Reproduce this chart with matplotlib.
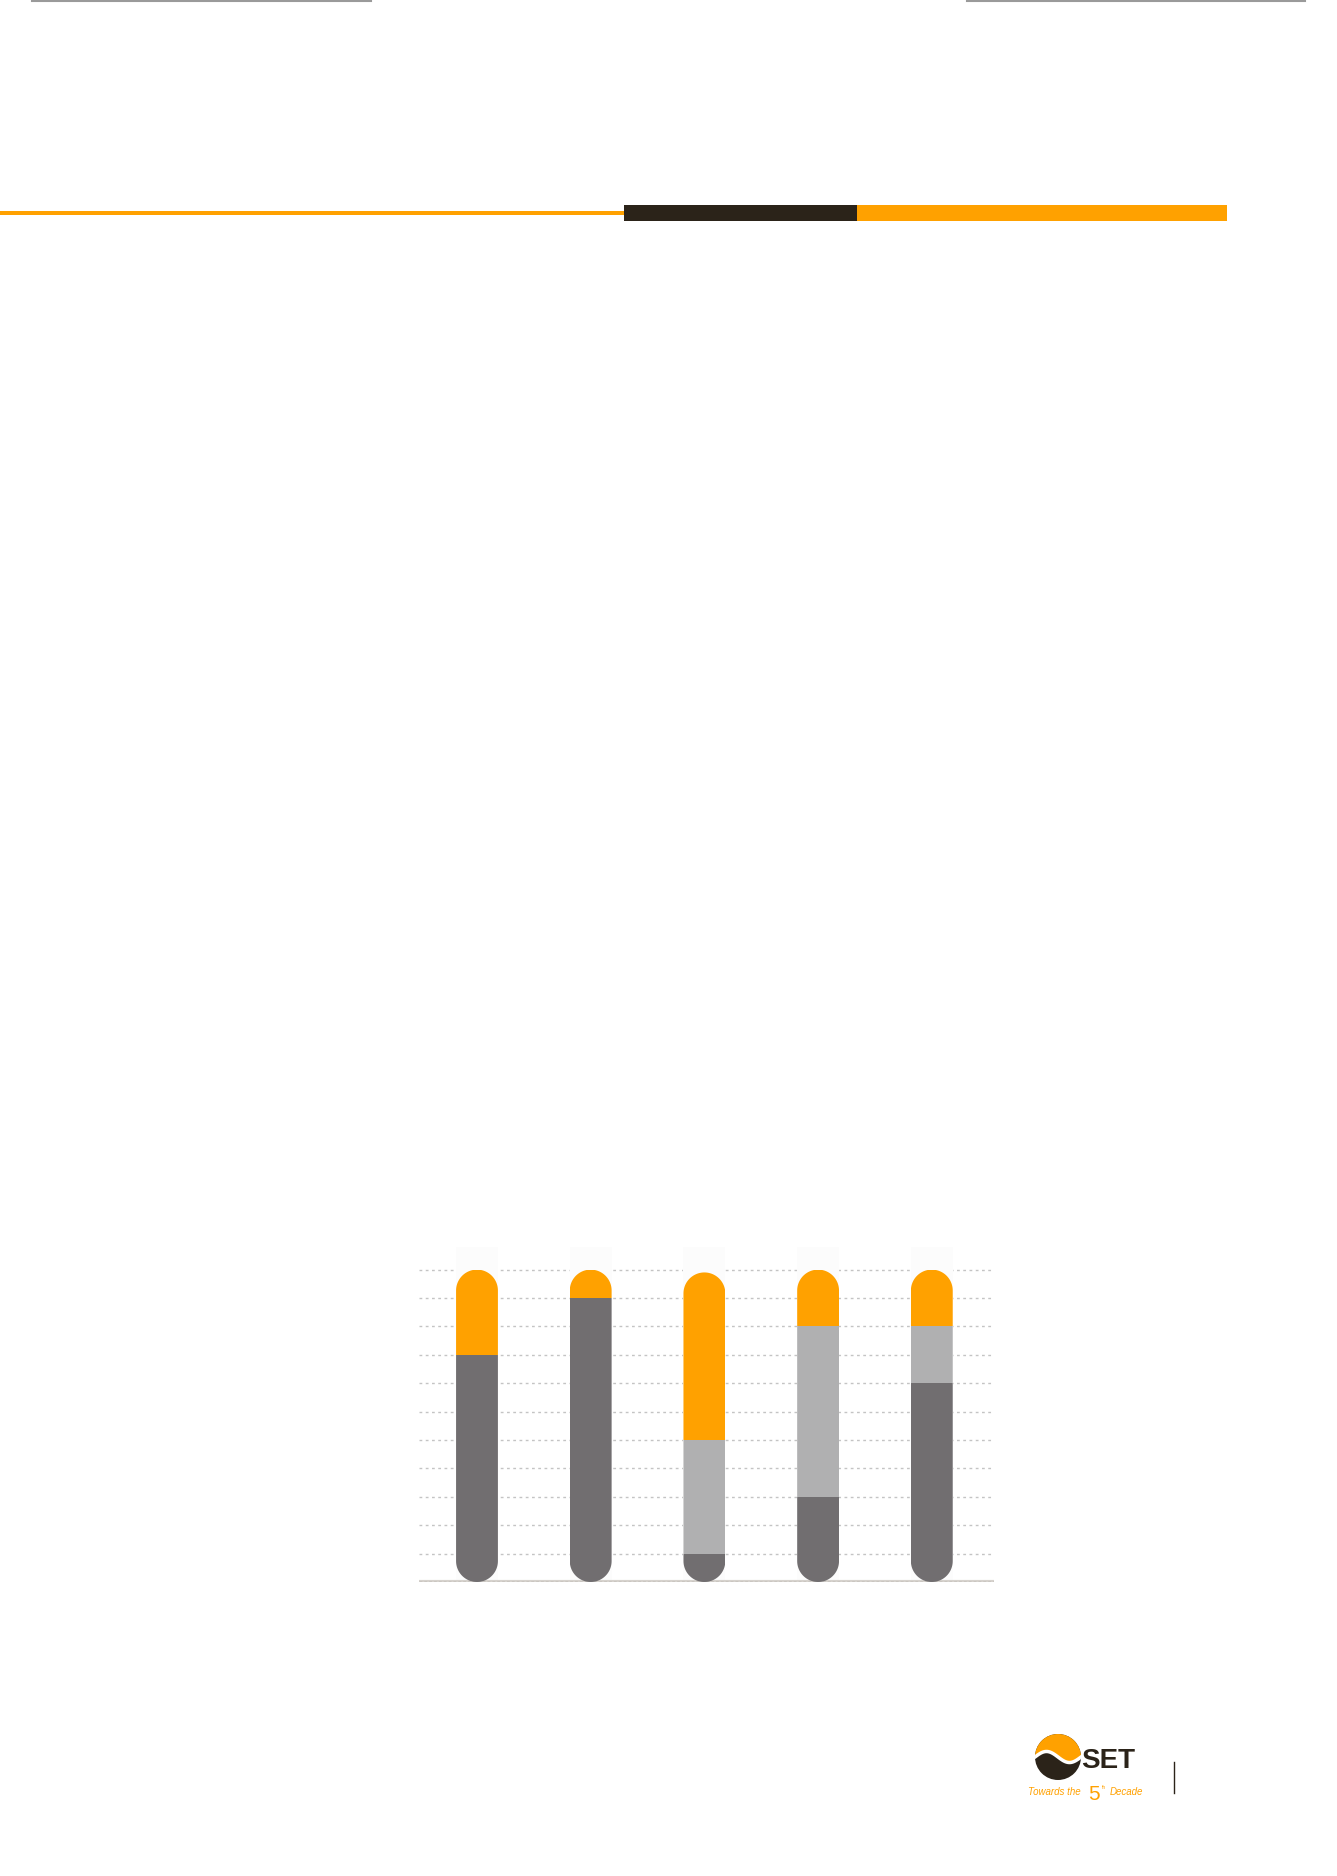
import numpy as np
import matplotlib.pyplot as plt
from matplotlib.path import Path
from matplotlib.patches import Rectangle, Circle, Polygon

# page size in pixels (dpi 100)
W, H = 1337, 1876

# stacked segment values (percent), one per column
columns = ['1', '2', '3', '4', '5']
dark_vals = [80, 100, 10, 30, 70]
light_vals = [0, 0, 40, 60, 20]
orange_vals = [30, 10, 59, 20, 20]
grid_ticks = list(range(10, 111, 10))
shade_top = 118

ORANGE = '#ffa100'
DARK = '#716e70'
LIGHT = '#b0b0b1'
BROWN = '#2b2319'

fig = plt.figure(figsize=(W / 100, H / 100), dpi=100)
fig.patch.set_facecolor('white')

# ---- page decoration layer (pixel coordinates, y measured from top) ----
deco = fig.add_axes([0, 0, 1, 1], zorder=-5)
deco.set_xlim(0, W)
deco.set_ylim(H, 0)
deco.axis('off')

# header rule and blocks
deco.add_patch(Rectangle((0, 211), 624, 4, color=ORANGE, lw=0))
deco.add_patch(Rectangle((624, 205), 233, 16, color=BROWN, lw=0))
deco.add_patch(Rectangle((857, 205), 370, 16, color=ORANGE, lw=0))
# crop marks at the top edge
deco.plot([32, 371], [1, 1], color='#9a9a9a', lw=1.5)
deco.plot([967, 1305], [1, 1], color='#9a9a9a', lw=1.5)

# SET logo
cx, cy, r = 1058, 1757, 23
circ = Circle((cx, cy), r, color=BROWN, lw=0)
deco.add_patch(circ)
wx = np.linspace(cx - r, cx + r, 60)
wy = cy + 0.24 * r * np.sin((wx - cx) / r * np.pi)
top_poly = Polygon(np.vstack([np.column_stack([wx, wy]),
                              [[cx + r, cy - r], [cx - r, cy - r]]]),
                   closed=True, color=ORANGE, lw=0)
deco.add_patch(top_poly)
top_poly.set_clip_path(circ)
wave, = deco.plot(wx, wy, color='white', lw=2.5)
wave.set_clip_path(circ)

logo_font = ['Liberation Sans', 'DejaVu Sans']
deco.text(1081, 1768, 'SET', fontsize=20, fontweight='bold', color=BROWN,
          va='baseline', ha='left', family=logo_font)
deco.text(1028, 1795, 'Towards the', fontsize=7, style='italic',
          color=ORANGE, va='baseline', family=logo_font)
deco.text(1088, 1800, '5', fontsize=15, color=ORANGE, va='baseline',
          family=logo_font)
deco.text(1102, 1789, 'th', fontsize=3.5, color=ORANGE, va='baseline',
          family=logo_font)
deco.text(1110, 1795, 'Decade', fontsize=7, style='italic',
          color=ORANGE, va='baseline', family=logo_font)
deco.plot([1174, 1174], [1762, 1793], color=BROWN, lw=1)

# ---- the chart ----
x0_px, x1_px = 419, 994
base_px = 1582
px_per_unit = 2.84
ymax = 122
ax_h = ymax * px_per_unit
ax = fig.add_axes([x0_px / W, (H - base_px) / H, (x1_px - x0_px) / W, ax_h / H])

x = np.arange(len(columns))
xlim = (-0.510, 4.547)
ax.set_xlim(*xlim)
ax.set_ylim(0, ymax)
width = 0.368

dark_vals = np.array(dark_vals, dtype=float)
light_vals = np.array(light_vals, dtype=float)
orange_vals = np.array(orange_vals, dtype=float)

# faint column backdrop, hides the grid behind each column
ax.bar(x, [shade_top] * len(columns), width, color='#fcfcfc', lw=0, zorder=2.5)

b1 = ax.bar(x, dark_vals, width, color=DARK, lw=0, zorder=3)
b2 = ax.bar(x, light_vals, width, bottom=dark_vals, color=LIGHT, lw=0, zorder=3)
b3 = ax.bar(x, orange_vals, width, bottom=dark_vals + light_vals,
            color=ORANGE, lw=0, zorder=3)

# pill shaped clipping for each column (round caps top and bottom)
ratio = ((x1_px - x0_px) / (xlim[1] - xlim[0])) / px_per_unit
totals = dark_vals + light_vals + orange_vals


def pill(xc, top, w):
    rx = w / 2
    ry = rx * ratio
    t = np.linspace(0, np.pi, 50)
    top_arc = np.column_stack([xc + rx * np.cos(t), top - ry + ry * np.sin(t)])
    bot_arc = np.column_stack([xc - rx * np.cos(t), ry - ry * np.sin(t)])
    verts = np.vstack([top_arc, bot_arc, top_arc[:1]])
    return Path(verts, closed=True)


for i in range(len(columns)):
    clip = pill(x[i], totals[i], width)
    for bars in (b1, b2, b3):
        bars[i].set_clip_path(clip, ax.transData)

# dotted grid and base line
ax.set_yticks(grid_ticks)
ax.set_xticks([])
ax.yaxis.grid(True, linestyle=(0, (2, 2.5)), color='#c4c4c4', lw=1)
ax.set_axisbelow(True)
ax.tick_params(left=False, labelleft=False)
for s in ax.spines.values():
    s.set_visible(False)
ax.axhline(0, color='#d6d2cd', lw=3, zorder=2.6)
ax.axhline(0, color='#9b9792', lw=1, linestyle=(0, (2, 1.5)), zorder=2.7)
ax.patch.set_alpha(0)

fig.savefig('out.png', dpi=100)
